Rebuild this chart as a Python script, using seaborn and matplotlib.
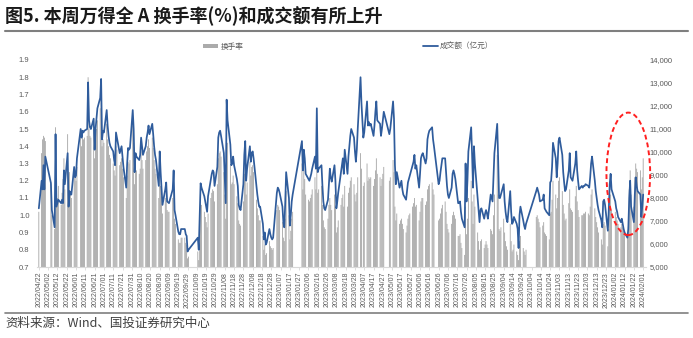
import numpy as np
import pandas as pd
import matplotlib
matplotlib.use("Agg")
import matplotlib.pyplot as plt
import matplotlib.dates as mdates
from matplotlib.patches import Patch, Ellipse
from matplotlib.lines import Line2D
import seaborn as sns

# ---------------- text ----------------
title = "图5. 本周万得全 A 换手率(%)和成交额有所上升"
source = "资料来源：Wind、国投证券研究中心"
bar_label = "换手率"
line_label = "成交额（亿元）"

# ---------------- calendar ----------------
start_date = "2022-04-22"
end_date = "2024-02-01"
holidays = ["2022-05-02", "2022-05-03", "2022-05-04", "2022-06-03", "2022-09-12",
            "2022-10-03", "2022-10-04", "2022-10-05", "2022-10-06", "2022-10-07",
            "2023-01-02", "2023-01-23", "2023-01-24", "2023-01-25", "2023-01-26",
            "2023-01-27", "2023-04-05", "2023-05-01", "2023-05-02", "2023-05-03",
            "2023-06-22", "2023-06-23", "2023-09-29", "2023-10-02", "2023-10-03",
            "2023-10-04", "2023-10-05", "2023-10-06", "2024-01-01"]

# ---------------- 成交额（亿元）, one value per trading day ----------------
amount_2022 = [
    7550, 8750, 8375, 9425, 8375, 9800,
    8650, 7475, 6725, 10775, 7625, 7775, 7925, 7775, 7925, 7775, 9200, 8600, 9950, 7625,
    8300, 8150, 8150, 9350, 8900,
    8975, 9725, 11000, 10625, 10925, 10850, 10925, 11000, 13025, 11375, 11075, 11000,
    11450, 10100, 11000, 11450, 11900, 12350, 13175, 10550, 10925,
    10850, 11825, 11150, 10700, 10400, 10250, 10025, 9650, 9425, 10850, 10625, 9950,
    10100, 10250, 9800, 9350, 8450, 9500, 10175, 10100, 10175,
    11825, 11000, 9125, 9950, 9800, 9650, 9875, 10625, 10250, 9875, 10250, 10625, 10850,
    11150, 10775, 11225, 10775, 10250, 9875, 9650, 8525, 10025, 9125,
    8450, 7700, 8375, 8675, 7850, 7810, 7775, 8375, 9200, 7475, 7250, 6540, 6425, 6425,
    6650, 6650, 6650, 6425, 6350, 5675, 5750,
    6275, 5750, 7250, 8640, 8450, 8075, 7850, 7625, 7400, 8075, 8825, 9050, 9200, 9125,
    8525, 9350,
    10625, 10850, 10925, 10700, 9950, 8900, 7775, 12275, 11375, 10325, 9425, 9500, 9800,
    9425, 8825, 8525, 7700, 7550, 7475, 8600, 9875, 10475,
    8750, 9275, 10250, 9575, 9950, 10025, 9725, 8525, 8150, 7850, 7625, 7625, 6875, 6200,
    6500, 5975, 6050, 6650, 6425, 6275, 6200, 6275,
]
amount_2023 = [
    8225, 8450, 8375, 8225, 7625, 6950, 6725, 7775, 9125, 8000, 6800, 7250, 7850, 8150,
    10475, 9200,
    10100, 9725, 9050, 8825, 8750, 8900, 9050, 9275, 9800, 9275, 11900, 9125, 9275, 9425,
    8560, 7850, 7550, 7475, 7925, 8600,
    9275, 8900, 8710, 9425, 8750, 7550, 7850, 8225, 9125, 9425, 9725, 9050, 10100, 9050,
    9800, 10250, 10700, 11000, 10625, 10025, 9575, 10100, 11000,
    13250, 12125, 10625, 10850, 12200, 11150, 11300, 11150, 11225, 10700, 11150, 11750,
    12200, 11375, 11225, 10700, 11000, 11375, 11750,
    10775, 11000, 12200, 11450, 9425, 8600, 9125, 8450, 8600, 8750, 8375, 8150, 7925, 8300,
    8675, 8825, 8975, 9425, 9575, 9875,
    9275, 9425, 8450, 9050, 9725, 9875, 9950, 9500, 9725, 10550, 10775, 10925, 11075,
    10550, 10250, 8600, 8750, 9125, 9425, 9725,
    9725, 9125, 8525, 8150, 8000, 8450, 9050, 9200, 9050, 8825, 7775, 7775, 7850, 7400,
    7100, 6725, 9500, 7850, 8750, 10025, 11075,
    9875, 8450, 10250, 9500, 8000, 7475, 6950, 7475, 7550, 7100, 7325, 7475, 7325, 7100,
    8150, 8000, 7850, 8900, 9950, 11225, 9725, 8000, 8000,
    8150, 8600, 7850, 7400, 7100, 6950, 8300, 7400, 6875, 6950, 7175, 6875, 6650, 5825,
    7250, 7625, 7025, 6800, 6650, 6875,
    8300, 8450, 8300, 8150, 7850, 7925, 8150, 7550, 7475, 7400, 7250, 8675, 8750, 9350,
    10400, 9725, 8900,
    9500, 10475, 10625, 9875, 9125, 8675, 8300, 8375, 9200, 9950, 8900, 8825, 8750, 9500,
    10025, 9200, 8750, 8375, 8525, 8450, 8525, 8525,
    8600, 8525, 8450, 8900, 9500, 9800, 8750, 8300, 8000, 7700, 7475, 7025, 6725, 7850,
    7925, 7700, 6575, 7475, 8600, 9050, 8375,
]
amount_2024 = [
    7850, 7550, 7400, 7175, 6950, 7100, 6875, 6650, 6500, 6275, 6650, 8000, 8750, 7625,
    6950, 8150, 8900, 8525, 8300, 8150, 7175, 7625,
    8150,
]

# ---------------- 换手率 (%), one value per trading day ----------------
turnover_2022 = [
    1.02, 1.36, 1.44, 1.46, 1.45, 1.43,
    1.18, 1.00, 0.92, 1.51, 1.05, 1.10, 1.17, 1.06, 1.13, 1.21, 1.33, 1.15, 1.47, 1.08,
    1.25, 1.14, 1.10, 1.26, 1.22,
    1.20, 1.28, 1.47, 1.40, 1.45, 1.44, 1.45, 1.46, 1.80, 1.50, 1.46, 1.45, 1.50, 1.33,
    1.44, 1.50, 1.55, 1.62, 1.70, 1.40, 1.44,
    1.42, 1.53, 1.44, 1.40, 1.35, 1.33, 1.30, 1.26, 1.23, 1.40, 1.38, 1.29, 1.31, 1.33,
    1.27, 1.22, 1.10, 1.23, 1.31, 1.30, 1.32,
    1.52, 1.42, 1.18, 1.28, 1.26, 1.24, 1.27, 1.37, 1.32, 1.27, 1.32, 1.37, 1.40, 1.44,
    1.39, 1.45, 1.39, 1.32, 1.27, 1.24, 1.10, 1.29, 1.17,
    1.11, 1.01, 1.10, 1.14, 1.03, 1.02, 1.02, 1.10, 1.21, 0.98, 0.95, 0.86, 0.84, 0.84,
    0.87, 0.87, 0.87, 0.84, 0.83, 0.75, 0.76,
    0.79, 0.74, 0.92, 1.08, 1.06, 1.02, 0.99, 0.96, 0.93, 1.01, 1.10, 1.13, 1.15, 1.14,
    1.08, 1.18,
    1.33, 1.36, 1.37, 1.34, 1.25, 1.12, 0.98, 1.48, 1.42, 1.29, 1.18, 1.19, 1.23, 1.18,
    1.11, 1.07, 0.97, 0.95, 0.94, 1.08, 1.24, 1.31,
    1.12, 1.19, 1.31, 1.23, 1.28, 1.29, 1.25, 1.09, 1.04, 1.00, 0.97, 0.97, 0.88, 0.80,
    0.83, 0.77, 0.78, 0.85, 0.82, 0.81, 0.80, 0.81,
]
turnover_2023 = [
    1.03, 1.06, 1.05, 1.03, 0.96, 0.87, 0.85, 0.98, 1.14, 1.00, 0.86, 0.91, 0.98, 1.02,
    1.30, 1.15,
    1.26, 1.21, 1.12, 1.09, 1.08, 1.10, 1.12, 1.15, 1.22, 1.15, 1.45, 1.13, 1.15, 1.17,
    1.06, 0.97, 0.93, 0.92, 0.98, 1.06,
    1.10, 1.06, 1.03, 1.12, 1.04, 0.90, 0.93, 0.97, 1.06, 1.10, 1.12, 1.05, 1.17, 1.05,
    1.13, 1.16, 1.20, 1.22, 1.18, 1.12, 1.08, 1.13, 1.22,
    1.36, 1.27, 1.17, 1.19, 1.30, 1.20, 1.22, 1.21, 1.22, 1.17, 1.21, 1.26, 1.33, 1.24,
    1.22, 1.17, 1.21, 1.24, 1.28,
    1.20, 1.22, 1.32, 1.25, 1.05, 0.97, 1.01, 0.95, 0.97, 0.98, 0.95, 0.92, 0.90, 0.94,
    0.98, 1.00, 1.01, 1.05, 1.07, 1.10,
    1.05, 1.06, 0.97, 1.02, 1.08, 1.10, 1.10, 1.06, 1.08, 1.15, 1.17, 1.18, 1.19, 1.15,
    1.12, 0.97, 0.98, 1.01, 1.04, 1.06,
    1.08, 1.02, 0.95, 0.92, 0.90, 0.95, 1.00, 1.02, 1.00, 0.98, 0.88, 0.88, 0.89, 0.84,
    0.81, 0.77, 1.05, 0.89, 0.98, 1.10, 1.20,
    1.08, 0.95, 1.12, 1.05, 0.90, 0.85, 0.80, 0.85, 0.86, 0.81, 0.83, 0.85, 0.83, 0.81,
    0.92, 0.91, 0.89, 1.00, 1.12, 1.35, 1.12, 0.92, 0.91,
    0.93, 0.98, 0.90, 0.85, 0.82, 0.80, 0.95, 0.85, 0.79, 0.80, 0.83, 0.79, 0.77, 0.74,
    0.85, 0.88, 0.81, 0.79, 0.77, 0.80,
    0.99, 1.00, 0.98, 0.96, 0.93, 0.94, 0.96, 0.90, 0.89, 0.88, 0.86, 1.01, 1.02, 1.09,
    1.20, 1.12, 1.04,
    1.10, 1.20, 1.22, 1.14, 1.06, 1.01, 0.97, 0.98, 1.07, 1.15, 1.04, 1.03, 1.02, 1.11,
    1.17, 1.08, 1.03, 0.99, 1.00, 1.00, 1.01, 1.01,
    1.02, 1.01, 1.00, 1.05, 1.12, 1.15, 1.04, 0.99, 0.96, 0.93, 0.90, 0.86, 0.83, 0.95,
    0.96, 0.94, 0.82, 0.92, 1.05, 1.12, 1.03,
]
turnover_2024 = [
    1.02, 0.99, 0.97, 0.95, 0.93, 0.95, 0.93, 0.91, 0.89, 0.87, 0.93, 1.15, 1.26, 1.12,
    1.05, 1.22, 1.30, 1.27, 1.25, 1.26, 1.15, 1.22,
    1.33,
]

left_ticks = [0.7, 0.8, 0.9, 1.0, 1.1, 1.2, 1.3, 1.4, 1.5, 1.6, 1.7, 1.8, 1.9]
right_ticks = [5000, 6000, 7000, 8000, 9000, 10000, 11000, 12000, 13000, 14000]

# ---------------- build frame ----------------
days = pd.bdate_range(start_date, end_date)
days = days[~days.isin(pd.to_datetime(holidays))]
amount = amount_2022 + amount_2023 + amount_2024
turnover = turnover_2022 + turnover_2023 + turnover_2024
n = min(len(days), len(amount), len(turnover))
if not (len(days) == len(amount) == len(turnover)):
    print("length mismatch", len(days), len(amount), len(turnover))
df = pd.DataFrame({"date": days[:n], "amount": amount[:n], "turnover": turnover[:n]})
df["x"] = mdates.date2num(df["date"])

# ---------------- style ----------------
sns.set_theme(style="white")
plt.rcParams["font.family"] = ["Liberation Sans", "Noto Sans CJK SC", "DejaVu Sans"]
CJK = ["Noto Sans CJK SC", "DejaVu Sans"]
bar_color = "#9f9f9f"
legend_bar_color = "#ababab"
line_color = "#2f5c9c"
tick_color = "#595959"

W, H = 693, 338
fig = plt.figure(figsize=(W / 100, H / 100), dpi=100)
ax = fig.add_axes([36.5 / W, (H - 267) / H, 609 / W, 207 / H])

sns.barplot(data=df, x="x", y="turnover", native_scale=True, orient="x",
            color=bar_color, saturation=1, width=0.85, linewidth=0,
            errorbar=None, ax=ax)
for p in ax.patches:
    p.set_snap(False)
    p.set_antialiased(True)

ax2 = ax.twinx()
sns.lineplot(data=df, x="x", y="amount", ax=ax2, color=line_color,
             linewidth=1.25, estimator=None, legend=False)

x0 = mdates.date2num(pd.Timestamp(start_date))
x1 = mdates.date2num(pd.Timestamp(end_date))
ax.set_xlim(x0 - 2.5, x1 + 2.5)
ax.set_ylim(0.7, 1.9)
ax2.set_ylim(5000, 14000)
ax.set_yticks(left_ticks)
ax.set_yticklabels([f"{v:.1f}" for v in left_ticks])
ax2.set_yticks(right_ticks)
ax2.set_yticklabels([f"{v:,}" for v in right_ticks])
xt = pd.date_range(start_date, end_date, freq="10D")
ax.set_xticks(mdates.date2num(xt))
ax.set_xticklabels([d.strftime("%Y/%m/%d") for d in xt], rotation=90)
ax.set_xlabel("")
ax.set_ylabel("")
ax2.set_xlabel("")
ax2.set_ylabel("")

for a in (ax, ax2):
    for s in ("top", "left", "right", "bottom"):
        a.spines[s].set_visible(False)
ax.spines["bottom"].set_visible(True)
ax.spines["bottom"].set_color("#d9d9d9")
ax.spines["bottom"].set_linewidth(0.8)

ax.tick_params(axis="x", length=2, width=0.6, color="#d9d9d9", labelsize=5,
               labelcolor=tick_color, pad=1.5, bottom=True)
ax.tick_params(axis="y", length=0, labelsize=5.5, labelcolor=tick_color, pad=5)
ax2.tick_params(axis="y", length=0, labelsize=5.5, labelcolor=tick_color, pad=3)
ax.grid(False)
ax2.grid(False)

# highlight ellipse (annotation)
ell_center = mdates.date2num(pd.Timestamp("2024-01-16"))
ell = Ellipse((ell_center, 1.24), width=47, height=0.71, fill=False,
              edgecolor="#ff2020", linestyle=(0, (2.5, 1.6)), linewidth=1.4,
              transform=ax.transData, clip_on=False, zorder=10)
ax2.add_artist(ell)

# legends
fig.legend(handles=[Patch(facecolor=legend_bar_color, edgecolor="none")], labels=[bar_label],
           loc="center", bbox_to_anchor=(223 / W, 1 - 47 / H), frameon=False,
           prop={"family": CJK, "size": 5.5}, handlelength=2.0, handleheight=0.5,
           handletextpad=0.3, labelcolor=tick_color)
fig.legend(handles=[Line2D([], [], color=line_color, lw=1.3)], labels=[line_label],
           loc="center", bbox_to_anchor=(458 / W, 1 - 47 / H), frameon=False,
           prop={"family": CJK, "size": 5.5}, handlelength=2.0,
           handletextpad=0.3, labelcolor=tick_color)

# title, rules, source
fig.text(5 / W, 1 - 16 / H, title, fontsize=13, fontweight="bold", family=CJK,
         ha="left", va="center", color="#1a1a1a")
fig.add_artist(Line2D([5 / W, 688 / W], [1 - 31 / H] * 2, color="#7f7f7f", lw=1.5,
                      transform=fig.transFigure))
fig.add_artist(Line2D([5 / W, 688 / W], [1 - 313 / H] * 2, color="#7f7f7f", lw=1.2,
                      transform=fig.transFigure))
fig.text(5 / W, 1 - 323 / H, source, fontsize=9, family=CJK, style="italic",
         ha="left", va="center", color="#404040")

fig.savefig("out.png", dpi=100)
